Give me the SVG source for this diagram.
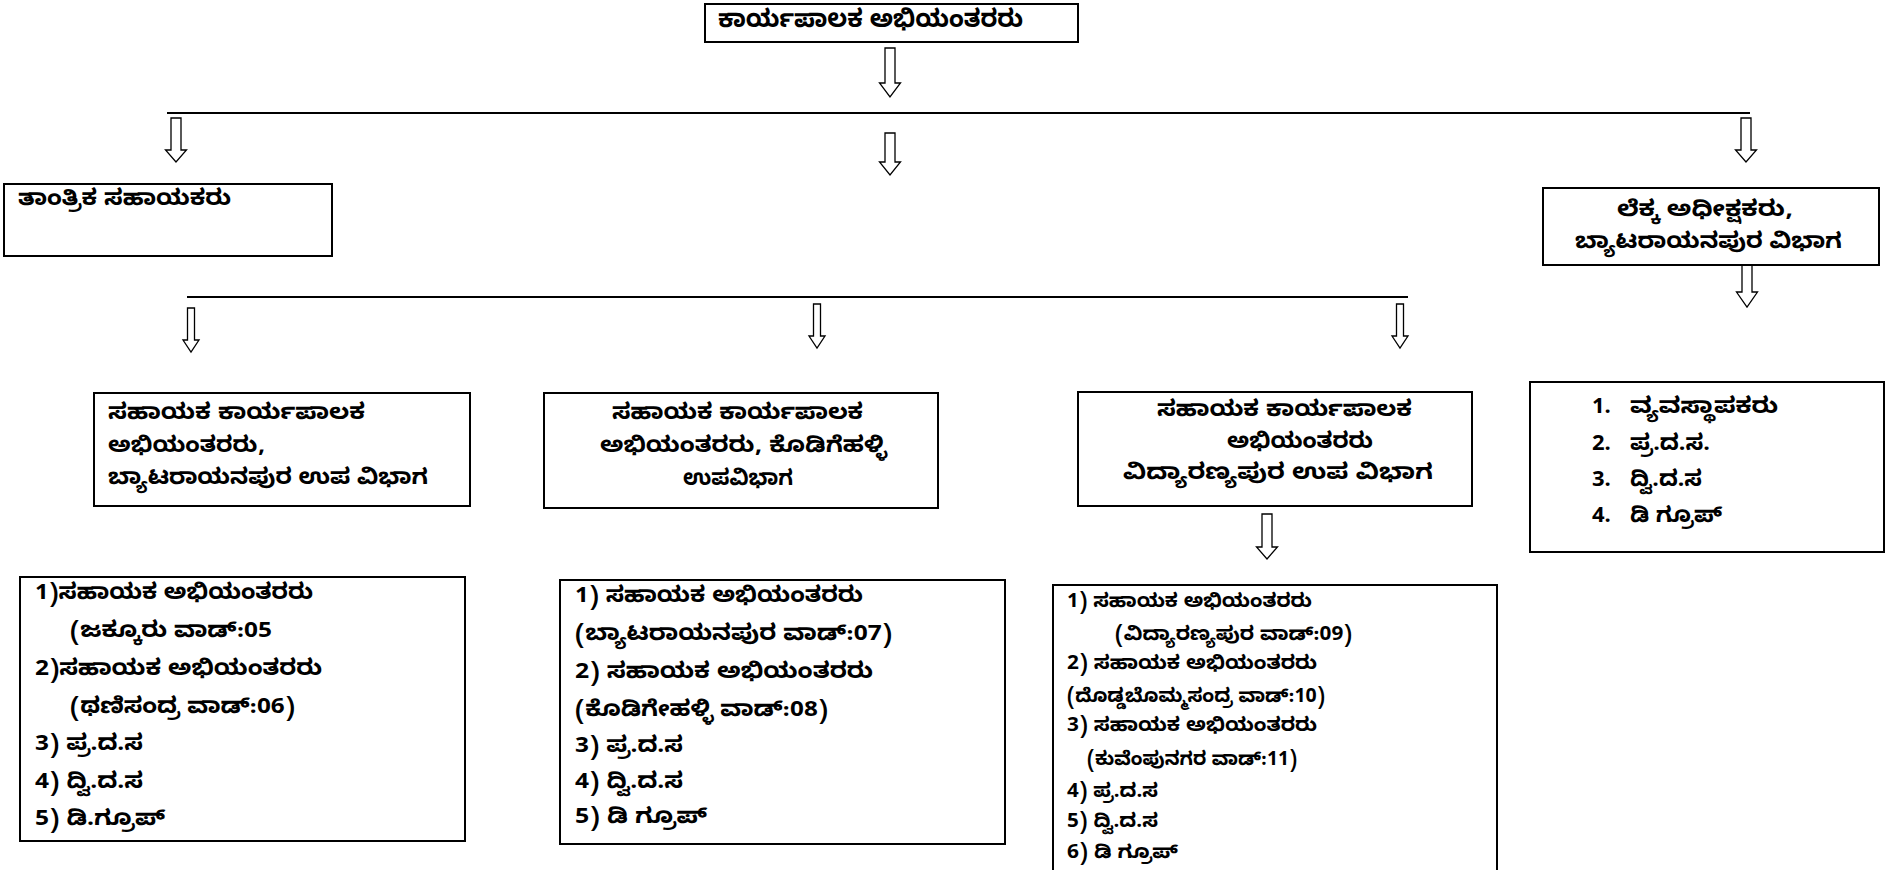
<svg xmlns="http://www.w3.org/2000/svg" width="1887" height="870" viewBox="0 0 1887 870">
<style>
.box{fill:#fff;stroke:#000;stroke-width:2}
.arr{fill:#fff;stroke:#000;stroke-width:1.3}
.ln{stroke:#000;stroke-width:2;fill:none}
text{font-family:"Noto Sans Kannada","Noto Sans","Liberation Sans",sans-serif;font-weight:bold;fill:#000}
.t24{font-size:25px}
.t20{font-size:22px}
.t18{font-size:19px}
</style>
<rect width="1887" height="870" fill="#fff"/>
<g id="connectors">
<line class="ln" x1="167" y1="113" x2="1750" y2="113"/>
<line class="ln" x1="187" y1="297" x2="1408" y2="297"/>
<path class="arr" d="M885,48H895V83H900.5L890,97L879.5,83H885Z"/>
<path class="arr" d="M885,133H895V162H900.5L890,175L879.5,162H885Z"/>
<path class="arr" d="M171,118H181V150H186.5L176,162L165.5,150H171Z"/>
<path class="arr" d="M1741,118H1751V150H1756.5L1746,162L1735.5,150H1741Z"/>
<path class="arr" d="M1742,260H1752V292H1757.5L1747,307L1736.5,292H1742Z"/>
<path class="arr" d="M187.5,308H194.5V340H199L191,352L183,340H187.5Z"/>
<path class="arr" d="M813.5,304H820.5V336H825L817,348L809,336H813.5Z"/>
<path class="arr" d="M1396.5,304H1403.5V336H1408L1400,348L1392,336H1396.5Z"/>
<path class="arr" d="M1262,514H1272V547H1277.5L1267,559L1256.5,547H1262Z"/>
</g>
<g id="n-top">
<rect class="box" x="705" y="4" width="373" height="38"/>
<text class="t24" x="718" y="27" textLength="305" lengthAdjust="spacingAndGlyphs">ಕಾರ್ಯಪಾಲಕ ಅಭಿಯಂತರರು</text>
</g>
<g id="n-tech">
<rect class="box" x="4" y="184" width="328" height="72"/>
<text class="t20" x="18" y="205" textLength="213" lengthAdjust="spacingAndGlyphs">ತಾಂತ್ರಿಕ ಸಹಾಯಕರು</text>
</g>
<g id="n-accounts">
<rect class="box" x="1543" y="188" width="336" height="77"/>
<text class="t20" x="1617" y="216" textLength="176" lengthAdjust="spacingAndGlyphs">ಲೆಕ್ಕ ಅಧೀಕ್ಷಕರು,</text>
<text class="t20" x="1575" y="248" textLength="267" lengthAdjust="spacingAndGlyphs">ಬ್ಯಾಟರಾಯನಪುರ ವಿಭಾಗ</text>
</g>
<g id="n-sub1">
<rect class="box" x="94" y="393" width="376" height="113"/>
<text class="t20" x="108" y="419" textLength="257" lengthAdjust="spacingAndGlyphs">ಸಹಾಯಕ ಕಾರ್ಯಪಾಲಕ</text>
<text class="t20" x="108" y="452" textLength="157" lengthAdjust="spacingAndGlyphs">ಅಭಿಯಂತರರು,</text>
<text class="t20" x="108" y="484" textLength="320" lengthAdjust="spacingAndGlyphs">ಬ್ಯಾಟರಾಯನಪುರ ಉಪ ವಿಭಾಗ</text>
</g>
<g id="n-sub2">
<rect class="box" x="544" y="393" width="394" height="115"/>
<text class="t20" x="612" y="419" textLength="251" lengthAdjust="spacingAndGlyphs">ಸಹಾಯಕ ಕಾರ್ಯಪಾಲಕ</text>
<text class="t20" x="600" y="452" textLength="287" lengthAdjust="spacingAndGlyphs">ಅಭಿಯಂತರರು, ಕೊಡಿಗೆಹಳ್ಳಿ</text>
<text class="t20" x="683" y="485" textLength="110" lengthAdjust="spacingAndGlyphs">ಉಪವಿಭಾಗ</text>
</g>
<g id="n-sub3">
<rect class="box" x="1078" y="392" width="394" height="114"/>
<text class="t20" x="1157" y="416" textLength="255" lengthAdjust="spacingAndGlyphs">ಸಹಾಯಕ ಕಾರ್ಯಪಾಲಕ</text>
<text class="t20" x="1227" y="448" textLength="146" lengthAdjust="spacingAndGlyphs">ಅಭಿಯಂತರರು</text>
<text class="t20" x="1123" y="479" textLength="310" lengthAdjust="spacingAndGlyphs">ವಿದ್ಯಾರಣ್ಯಪುರ ಉಪ ವಿಭಾಗ</text>
</g>
<g id="n-staff">
<rect class="box" x="1530" y="382" width="354" height="170"/>
<text class="t20" x="1592" y="413">1.</text><text class="t20" x="1630" y="413" textLength="148" lengthAdjust="spacingAndGlyphs">ವ್ಯವಸ್ಥಾಪಕರು</text>
<text class="t20" x="1592" y="450">2.</text><text class="t20" x="1630" y="450" textLength="80" lengthAdjust="spacingAndGlyphs">ಪ್ರ.ದ.ಸ.</text>
<text class="t20" x="1592" y="486">3.</text><text class="t20" x="1630" y="486" textLength="72" lengthAdjust="spacingAndGlyphs">ದ್ವಿ.ದ.ಸ</text>
<text class="t20" x="1592" y="522">4.</text><text class="t20" x="1630" y="522" textLength="92" lengthAdjust="spacingAndGlyphs">ಡಿ ಗ್ರೂಪ್</text>
</g>
<g id="n-list1">
<rect class="box" x="20" y="577" width="445" height="264"/>
<text class="t20" x="35" y="599" textLength="278" lengthAdjust="spacingAndGlyphs">1)ಸಹಾಯಕ ಅಭಿಯಂತರರು</text>
<text class="t20" x="70" y="637" textLength="202" lengthAdjust="spacingAndGlyphs">(ಜಕ್ಕೂರು ವಾಡ್:05</text>
<text class="t20" x="35" y="675" textLength="287" lengthAdjust="spacingAndGlyphs">2)ಸಹಾಯಕ ಅಭಿಯಂತರರು</text>
<text class="t20" x="70" y="713" textLength="225" lengthAdjust="spacingAndGlyphs">(ಥಣಿಸಂದ್ರ ವಾಡ್:06)</text>
<text class="t20" x="35" y="750" textLength="108" lengthAdjust="spacingAndGlyphs">3) ಪ್ರ.ದ.ಸ</text>
<text class="t20" x="35" y="788" textLength="108" lengthAdjust="spacingAndGlyphs">4) ದ್ವಿ.ದ.ಸ</text>
<text class="t20" x="35" y="825" textLength="130" lengthAdjust="spacingAndGlyphs">5) ಡಿ.ಗ್ರೂಪ್</text>
</g>
<g id="n-list2">
<rect class="box" x="560" y="580" width="445" height="264"/>
<text class="t20" x="575" y="602" textLength="288" lengthAdjust="spacingAndGlyphs">1) ಸಹಾಯಕ ಅಭಿಯಂತರರು</text>
<text class="t20" x="575" y="640" textLength="317" lengthAdjust="spacingAndGlyphs">(ಬ್ಯಾಟರಾಯನಪುರ ವಾಡ್:07)</text>
<text class="t20" x="575" y="678" textLength="298" lengthAdjust="spacingAndGlyphs">2) ಸಹಾಯಕ ಅಭಿಯಂತರರು</text>
<text class="t20" x="575" y="716" textLength="253" lengthAdjust="spacingAndGlyphs">(ಕೊಡಿಗೇಹಳ್ಳಿ ವಾಡ್:08)</text>
<text class="t20" x="575" y="752" textLength="108" lengthAdjust="spacingAndGlyphs">3) ಪ್ರ.ದ.ಸ</text>
<text class="t20" x="575" y="788" textLength="108" lengthAdjust="spacingAndGlyphs">4) ದ್ವಿ.ದ.ಸ</text>
<text class="t20" x="575" y="823" textLength="132" lengthAdjust="spacingAndGlyphs">5) ಡಿ ಗ್ರೂಪ್</text>
</g>
<g id="n-list3">
<rect class="box" x="1053" y="585" width="444" height="290"/>
<text class="t18" x="1067" y="607" textLength="245" lengthAdjust="spacingAndGlyphs">1) ಸಹಾಯಕ ಅಭಿಯಂತರರು</text>
<text class="t18" x="1115" y="640" textLength="237" lengthAdjust="spacingAndGlyphs">(ವಿದ್ಯಾರಣ್ಯಪುರ ವಾಡ್:09)</text>
<text class="t18" x="1067" y="669" textLength="250" lengthAdjust="spacingAndGlyphs">2) ಸಹಾಯಕ ಅಭಿಯಂತರರು</text>
<text class="t18" x="1067" y="702" textLength="258" lengthAdjust="spacingAndGlyphs">(ದೊಡ್ಡಬೊಮ್ಮಸಂದ್ರ ವಾಡ್:10)</text>
<text class="t18" x="1067" y="731" textLength="250" lengthAdjust="spacingAndGlyphs">3) ಸಹಾಯಕ ಅಭಿಯಂತರರು</text>
<text class="t18" x="1087" y="765" textLength="210" lengthAdjust="spacingAndGlyphs">(ಕುವೆಂಪುನಗರ ವಾಡ್:11)</text>
<text class="t18" x="1067" y="797" textLength="91" lengthAdjust="spacingAndGlyphs">4) ಪ್ರ.ದ.ಸ</text>
<text class="t18" x="1067" y="827" textLength="91" lengthAdjust="spacingAndGlyphs">5) ದ್ವಿ.ದ.ಸ</text>
<text class="t18" x="1067" y="858" textLength="111" lengthAdjust="spacingAndGlyphs">6) ಡಿ ಗ್ರೂಪ್</text>
</g>
</svg>
